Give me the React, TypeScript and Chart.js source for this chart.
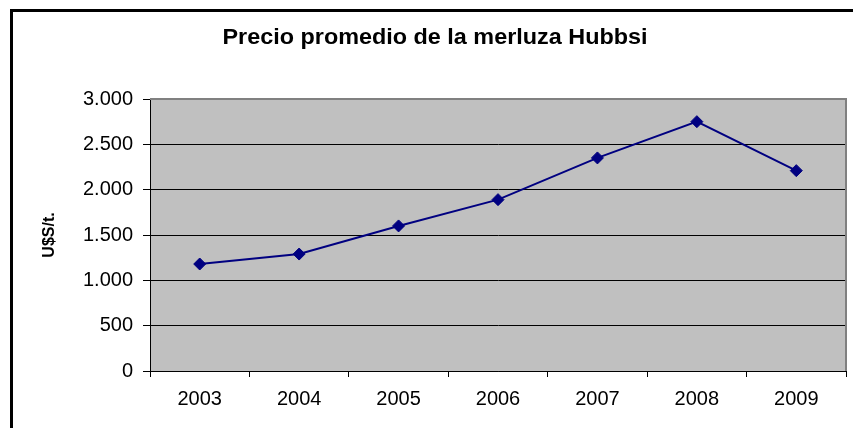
import React, { useEffect, useRef } from "react";
import { Chart, registerables } from "chart.js";

Chart.register(...registerables);

const TITLE = "Precio promedio de la merluza Hubbsi";
const Y_TITLE = "U$S/t.";
const years = ["2003", "2004", "2005", "2006", "2007", "2008", "2009"];
const prices = [1180, 1290, 1600, 1890, 2350, 2750, 2210];
const yMin = 0;
const yMax = 3000;
const yStep = 500;

const FONT = "'Liberation Sans', Arial, sans-serif";

const fmt = (v: number) => String(v).replace(/\B(?=(\d{3})+(?!\d))/g, ".");

const framePlugin = {
  id: "frame",
  beforeDraw(chart: any) {
    const { ctx, chartArea } = chart;
    ctx.save();
    ctx.fillStyle = "#ffffff";
    ctx.fillRect(0, 0, chart.width, chart.height);
    // outer border
    ctx.fillStyle = "#000000";
    ctx.fillRect(10, 9, chart.width, 3);
    ctx.fillRect(10, 9, 3, chart.height);
    // plot area
    ctx.fillStyle = "#C0C0C0";
    ctx.fillRect(chartArea.left, chartArea.top, chartArea.right - chartArea.left, chartArea.bottom - chartArea.top);
    ctx.restore();
  },
  beforeDatasetsDraw(chart: any) {
    const { ctx, chartArea } = chart;
    ctx.save();
    ctx.strokeStyle = "#808080";
    ctx.lineWidth = 2;
    ctx.beginPath();
    ctx.moveTo(chartArea.left, chartArea.top);
    ctx.lineTo(chartArea.right, chartArea.top);
    ctx.lineTo(chartArea.right, chartArea.bottom);
    ctx.stroke();
    ctx.restore();
  },
  afterDraw(chart: any) {
    const { ctx } = chart;
    ctx.save();
    ctx.fillStyle = "#000000";
    ctx.font = `bold 22px ${FONT}`;
    ctx.textAlign = "center";
    ctx.textBaseline = "middle";
    const w = ctx.measureText(TITLE).width;
    const sx = 425 / w;
    ctx.translate(435, 38);
    ctx.scale(sx, 1);
    ctx.fillText(TITLE, 0, 0);
    ctx.restore();
  },
};

export default function App() {
  const ref = useRef<HTMLCanvasElement>(null);
  useEffect(() => {
    if (!ref.current) return;
    const chart = new Chart(ref.current, {
      type: "line",
      data: {
        labels: years,
        datasets: [
          {
            data: prices,
            borderColor: "#000080",
            backgroundColor: "#000080",
            borderWidth: 2,
            pointStyle: "rectRot",
            pointRadius: 6,
            pointBorderWidth: 1,
            pointBackgroundColor: "#000080",
            pointBorderColor: "#000080",
            tension: 0,
            fill: false,
          },
        ],
      },
      plugins: [framePlugin],
      options: {
        responsive: false,
        animation: false,
        layout: { padding: { left: 0, right: 7, top: 99, bottom: 0 } },
        plugins: {
          legend: { display: false },
          title: { display: false },
          tooltip: { enabled: false },
        },
        scales: {
          x: {
            type: "category",
            offset: true,
            grid: {
              offset: true,
              drawOnChartArea: false,
              drawTicks: true,
              tickLength: 6,
              color: "#000000",
            },
            border: { display: true, color: "#000000", width: 1 },
            ticks: {
              color: "#000000",
              font: { family: FONT, size: 20 },
              padding: 10,
              maxRotation: 0,
              autoSkip: false,
            },
            afterFit(scale: any) {
              scale.height = 57;
            },
          },
          y: {
            min: yMin,
            max: yMax,
            grid: {
              color: "#000000",
              lineWidth: 1,
              drawTicks: true,
              tickLength: 7,
            },
            border: { display: true, color: "#000000", width: 1 },
            ticks: {
              stepSize: yStep,
              color: "#000000",
              font: { family: FONT, size: 20 },
              padding: 10,
              callback: (v: any) => fmt(Number(v)),
            },
            title: {
              display: true,
              text: Y_TITLE,
              color: "#000000",
              font: { family: FONT, size: 16, weight: "bold" },
              padding: { top: 40, bottom: 0 },
            },
            afterFit(scale: any) {
              scale.width = 150;
            },
          },
        },
      },
    });
    return () => chart.destroy();
  }, []);
  return (
    <div style={{ position: "fixed", left: 0, top: 0, width: 853, height: 428, background: "#fff" }}>
      <canvas ref={ref} width={853} height={428} style={{ display: "block", width: 853, height: 428 }} />
    </div>
  );
}
